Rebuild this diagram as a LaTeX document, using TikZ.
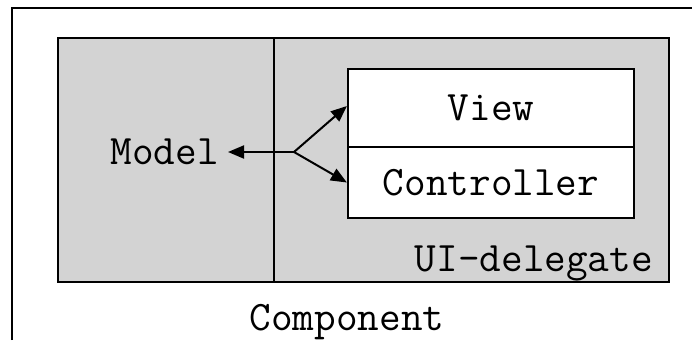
\documentclass[tikz,border=0pt]{standalone}
\usepackage{fontspec}
\usepackage{tikz}
\usetikzlibrary{arrows.meta}
\newcommand\labelfont{\ttfamily\fontsize{42}{46}\selectfont}
\definecolor{boxgray}{RGB}{211,211,211}

\begin{document}
\begin{tikzpicture}[x=1pt,y=-1pt,
		frame_style/.style={draw=black,line width=2.2pt},
		part_style/.style={rectangle,draw=black,fill=white,line width=2.2pt,minimum width=286pt,inner sep=0pt,font=\labelfont},
		text_style/.style={inner sep=0pt,font=\labelfont},
		arrow_style/.style={draw=black,line width=2pt,-{Triangle[length=16pt,width=13pt]}}]

		\useasboundingbox (0,0) rectangle (692,340);

		\draw[frame_style] (12,340) -- (12,8) -- (692,8);
		\draw[frame_style,fill=boxgray] (58,38) rectangle (669,282);
		\draw[frame_style] (274,38) -- (274,282);

		\node[part_style,minimum height=78pt] (view) at (491,108) {View};
		\node[part_style,minimum height=71pt] (controller) at (491,182.5) {Controller};
		\node[text_style,anchor=base east] (model) at (219,164) {Model};
		\node[text_style,anchor=base east] (delegate) at (653,271) {UI-delegate};
		\node[text_style,anchor=base] (component) at (347,330) {Component};
		\coordinate (branch) at (294,152);

		\draw[arrow_style] (branch) -- ([xshift=9pt]model.east |- branch);
		\draw[arrow_style] (branch) -- ([yshift=2pt]view.west);
		\draw[arrow_style] (branch) -- (controller.west);

\end{tikzpicture}
\end{document}
